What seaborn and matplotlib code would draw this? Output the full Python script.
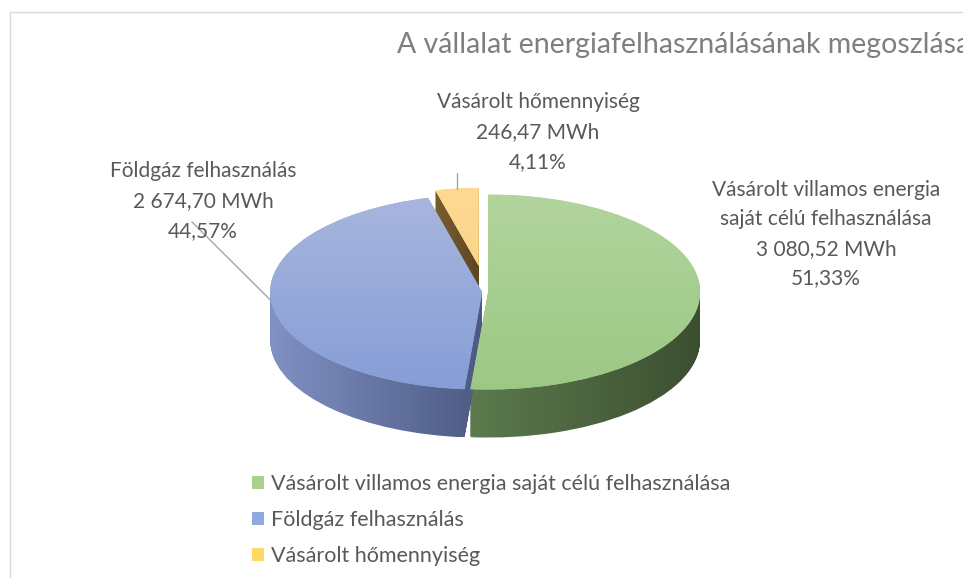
import textwrap
import numpy as np
import matplotlib
matplotlib.use("Agg")
import matplotlib.pyplot as plt
import seaborn as sns
from matplotlib.path import Path
from matplotlib.patches import PathPatch, Rectangle
from matplotlib.colors import LinearSegmentedColormap

# ---------------- data ----------------
categories = [
    "Vásárolt villamos energia saját célú felhasználása",
    "Földgáz felhasználás",
    "Vásárolt hőmennyiség",
]
values_mwh = [3080.52, 2674.70, 246.47]
legend_colors = ["#A9D18E", "#8FAADC", "#FFD966"]
title = "A vállalat energiafelhasználásának megoszlása"

# ---------------- styling ----------------
top_grad = [("#9CC885", "#B2D49D"), ("#869DD6", "#A8B6DE"), ("#FCD58B", "#FDD992")]
side_grad = [("#5C7A4D", "#3C4F31"), ("#8191C3", "#4C5A83"), ("#7A5E30", "#5E4623")]
explode = [0.01, 0.018, 0.27]
radius_scale = [1.0, 1.0, 0.8]
depth_scale = [1.0, 1.0, 0.6]
label_pos = [(826, 234), (203, 201), (538, 132)]  # pixel centres of data labels
text_color = "#595959"
label_size = 15
label_ls = 1.6

sns.set_theme(style="white")
plt.rcParams["font.family"] = ["Lato", "DejaVu Sans"]

W, H = 963, 578
fig = plt.figure(figsize=(W / 100, H / 100), dpi=100)
ax = fig.add_axes([0, 0, 1, 1])

# geometry of the top face ellipse in pixels
CX, CY, RX, RY = 486, 292, 212, 97.5
depth = 48 / RY


def px2d(x, y):
    return (x - CX) / RX, (CY - y) / RY


def fmt_num(v):
    return f"{v:,.2f}".replace(",", " ").replace(".", ",")


total = sum(values_mwh)
pct_labels = [f"{v / total * 100:.2f}".replace(".", ",") + "%" for v in values_mwh]


def grad_fill(path, c0, c1, horizontal, z):
    pp = PathPatch(path, transform=ax.transData, facecolor="none",
                   edgecolor="none")
    ax.add_patch(pp)
    ext = path.get_extents()
    g = np.linspace(0, 1, 256)
    arr = g[None, :] if horizontal else g[:, None]
    cmap = LinearSegmentedColormap.from_list("g", [c0, c1])
    im = ax.imshow(arr, cmap=cmap, extent=(ext.x0, ext.x1, ext.y0, ext.y1),
                   origin="lower", aspect="auto", interpolation="bilinear",
                   zorder=z)
    im.set_clip_path(pp)


# ---- extruded sides: stacked pie layers ----
n_layers = 40
side_paths = [[] for _ in values_mwh]
for k in range(n_layers, 0, -1):
    wedges, _ = ax.pie(values_mwh, startangle=90, counterclock=False,
                       explode=explode, wedgeprops=dict(linewidth=0))
    for i, w in enumerate(wedges):
        w.set_radius(radius_scale[i])
        cx, cy = w.center
        w.set_center((cx, cy - depth * depth_scale[i] * k / n_layers))
        side_paths[i].append(w.get_path())
        w.remove()

side_order = [2, 0, 1]
for zi, i in enumerate(side_order):
    comp = Path.make_compound_path(*side_paths[i])
    grad_fill(comp, side_grad[i][0], side_grad[i][1], True, 1 + zi * 0.1)

# ---- top faces ----
tops, _ = ax.pie(values_mwh, startangle=90, counterclock=False,
                 explode=explode, colors=legend_colors,
                 wedgeprops=dict(linewidth=0))
for i, w in enumerate(tops):
    w.set_radius(radius_scale[i])
    w.set_zorder(2)
    grad_fill(w.get_path(), top_grad[i][0], top_grad[i][1], False, 2.5)

ax.set_aspect("auto")
ax.set_xlim(-CX / RX, (W - CX) / RX)
ax.set_ylim((CY - H) / RY, CY / RY)
ax.axis("off")

# ---- data labels ----
for i, (cat, v) in enumerate(zip(categories, values_mwh)):
    txt = textwrap.fill(cat, 25) + "\n" + fmt_num(v) + " MWh\n" + pct_labels[i]
    x, y = label_pos[i]
    fig.text(x / W, 1 - y / H, txt, ha="center", va="center",
             multialignment="center", fontsize=label_size, color=text_color,
             linespacing=label_ls)


def wedge_point(w):
    th = np.deg2rad((w.theta1 + w.theta2) / 2)
    return w.center[0] + w.r * np.cos(th), w.center[1] + w.r * np.sin(th)


# leader lines
bx, by = wedge_point(tops[1])
sx, sy = px2d(192, 222)
ax.plot([sx, bx], [sy, by], color="#A6A6A6", lw=1.0, zorder=5)
yx, yy = wedge_point(tops[2])
ax.plot([yx, yx], [px2d(0, 173)[1], yy], color="#A6A6A6", lw=1.0, zorder=5)

# ---- title ----
fig.text(397 / W, 1 - 45 / H, title, ha="left", va="center", fontsize=20.5,
         color="#7F7F7F")

# ---- legend ----
fig.legend(tops, categories, loc="upper left",
           bbox_to_anchor=(252 / W, 1 - 474 / H), frameon=False,
           fontsize=15.5, labelcolor=text_color, handlelength=0.55,
           handleheight=0.55, handletextpad=0.35, labelspacing=0.74,
           borderpad=0, borderaxespad=0)

# ---- chart border ----
fig.patches.append(Rectangle((10 / W, -0.1), 1.0, 1 - 12 / H + 0.1,
                             transform=fig.transFigure, fill=False,
                             edgecolor="#D9D9D9", linewidth=1.0, zorder=0))

fig.savefig("out.png", dpi=100)
